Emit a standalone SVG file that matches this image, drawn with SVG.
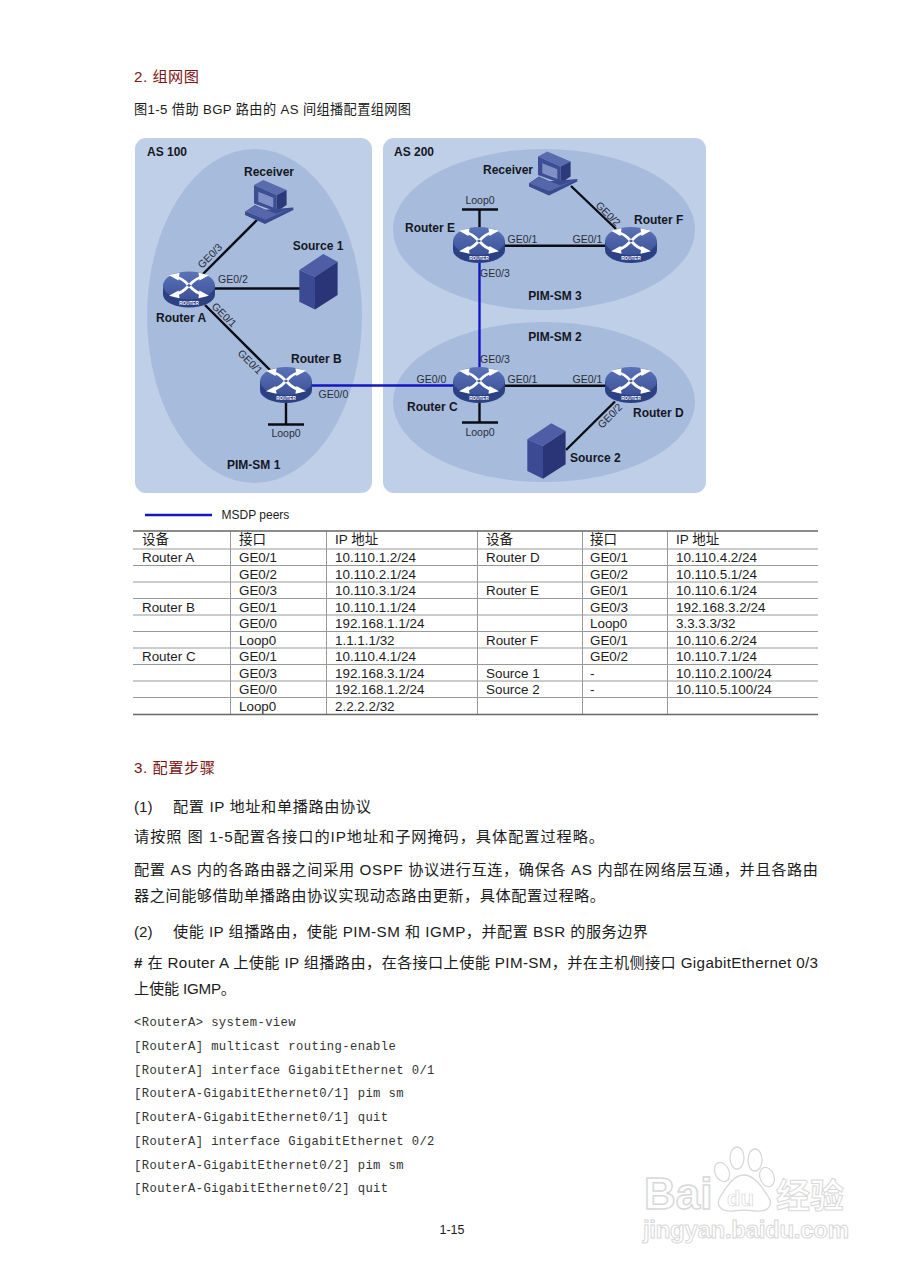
<svg xmlns="http://www.w3.org/2000/svg" xmlns:xlink="http://www.w3.org/1999/xlink" width="905" height="1280" viewBox="0 0 905 1280">
<style>
text{font-family:"Liberation Sans","Noto Sans CJK SC",sans-serif;fill:#1c1c1c}
.l{font-size:10.5px;fill:#2a2d3a}
.n{font-size:12px;font-weight:bold;fill:#15171f}
.m{text-anchor:middle}
.t{font-size:13.4px}
.h{font-size:13.500px}
.b{font-size:15.200px}
.red{font-size:15.200px;fill:#7b1414}
.c{font-family:"Liberation Mono","Noto Sans CJK SC",monospace;font-size:12.200px;letter-spacing:.4px;fill:#333}
.link{stroke:#0c0c14;stroke-width:2.4;fill:none}
.msdp{stroke:#1416c4;stroke-width:2.4;fill:none}
.grid{stroke:#999;stroke-width:1;fill:none}
.edge{stroke:#666;stroke-width:1.6;fill:none}
.wm{fill:#fff;stroke:#d8d8d8;stroke-width:1.3;font-weight:bold}
</style>
<defs>
<linearGradient id="rt" x1="0" y1="0" x2="0" y2="1"><stop offset="0" stop-color="#5a73b8"/><stop offset="1" stop-color="#3c5299"/></linearGradient>
<g id="arr"><path d="M-1,-1 C-5,-6 -9,-9 -14,-10" stroke="#fff" stroke-width="3.200" fill="none"/><polygon points="-21,-12 -10,-15 -11,-6" fill="#fff"/></g>
<g id="router">
<path d="M-26,-4 V5 A26,13 0 0 0 26,5 V-4 Z" fill="#2c4184"/>
<ellipse cx="0" cy="-4" rx="26" ry="14" fill="url(#rt)"/>
<g transform="translate(0,-4) scale(.95,.85)"><use xlink:href="#arr"/><use xlink:href="#arr" transform="scale(-1,1)"/><use xlink:href="#arr" transform="scale(1,-1)"/><use xlink:href="#arr" transform="scale(-1,-1)"/></g>
<text x="0" y="15" text-anchor="middle" style="font-size:4.6px;font-weight:bold;fill:#fff">ROUTER</text>
</g>
<g id="pc">
<polygon points="-14.3,-16.7 -5,-21.7 18.3,-11.7 8.3,-6.7" fill="#5a6cae"/>
<polygon points="-14.3,-16.7 8.3,-6.7 8.3,10 -14.3,1.7" fill="#3d4e93"/>
<polygon points="8.3,-6.7 18.3,-11.7 18.3,3.3 8.3,10" fill="#2c3a7c"/>
<polygon points="-10,-10 5,-4 5,5.7 -10,0" fill="#7f90c8"/>
<polygon points="-23.3,10 -13.3,3.3 -3,8 25,5.7 25,8.3 -3.3,22.3 -23.3,13.3" fill="#3a4b90"/>
<polygon points="-23.3,10 -13.3,4 8,12 25,5.7 -3,18" fill="#5567aa"/>
</g>
<g id="server">
<polygon points="-19,-11.7 5,-27.7 19.3,-20 -3.3,-5" fill="#4e5da6"/>
<polygon points="-19,-11.7 -3.3,-5 -3.3,27.7 -19,20" fill="#3b4a93"/>
<polygon points="-3.3,-5 19.3,-20 19.3,13.3 -3.3,27.7" fill="#2a3578"/>
</g>
</defs>
<rect width="905" height="1280" fill="#fff"/>

<text class="red" x="134" y="82" textLength="65">2. 组网图</text>
<text x="134" y="114" textLength="277" style="font-size:13.2px">图1-5  借助 BGP 路由的 AS 间组播配置组网图</text>

<g id="regions">
<rect id="as100" x="135" y="138" width="237" height="355" rx="11" fill="#c0cfe8"/>
<rect id="as200" x="383" y="138" width="323" height="355" rx="11" fill="#c0cfe8"/>
<ellipse id="pim1" cx="254.500" cy="316" rx="107.500" ry="167" fill="#a7bbdc"/>
<ellipse id="pim3" cx="544" cy="229.500" rx="151" ry="80.500" fill="#a7bbdc"/>
<ellipse id="pim2" cx="544" cy="402" rx="151" ry="80" fill="#a7bbdc"/>
<text class="n" x="147" y="156">AS 100</text>
<text class="n" x="394" y="156">AS 200</text>
<text class="n" x="227" y="469">PIM-SM 1</text>
<text class="n m" x="555" y="300">PIM-SM 3</text>
<text class="n m" x="555" y="341">PIM-SM 2</text>
</g>

<g id="connectors">
<path class="link" d="M203,274 L257,220"/>
<path class="link" d="M214,288.500 H300"/>
<path class="link" d="M205,305 L271,371"/>
<path class="link" d="M286,402 V424.500 M268,424.500 H304"/>
<path class="link" d="M479.500,227 V209.500 M462,209.500 H498"/>
<path class="link" d="M479.500,402 V422.500 M462,422.500 H498"/>
<path class="link" d="M504,245.700 H606"/>
<path class="link" d="M504,385.700 H606"/>
<path class="link" d="M571,186 L616,229"/>
<path class="link" d="M615,401.500 L566,450"/>
<path class="msdp" d="M311,385.500 H454"/>
<path class="msdp" d="M479.500,262 V368"/>
<path class="msdp" d="M145,515 H212"/>
</g>

<g id="labels">
<text class="l m" transform="translate(210,256) rotate(-45)" dy="3.500">GE0/3</text>
<text class="l" x="218" y="283">GE0/2</text>
<text class="l m" transform="translate(224,315) rotate(45)" dy="3.500">GE0/1</text>
<text class="l m" transform="translate(250,362) rotate(45)" dy="3.500">GE0/1</text>
<text class="l" x="318.500" y="398">GE0/0</text>
<text class="l m" x="286" y="437">Loop0</text>
<text class="l m" x="480" y="204">Loop0</text>
<text class="l" x="507.500" y="243">GE0/1</text>
<text class="l" x="572.500" y="243">GE0/1</text>
<text class="l" x="480" y="277">GE0/3</text>
<text class="l m" transform="translate(608,214) rotate(45)" dy="3.500">GE0/2</text>
<text class="l" x="480" y="363">GE0/3</text>
<text class="l" x="416.500" y="383">GE0/0</text>
<text class="l" x="507.500" y="383">GE0/1</text>
<text class="l" x="572.500" y="383">GE0/1</text>
<text class="l m" x="480" y="436">Loop0</text>
<text class="l m" transform="translate(610,416) rotate(-45)" dy="3.500">GE0/2</text>
<text x="221.500" y="519" style="font-size:12px">MSDP peers</text>
</g>

<g id="routerA"><use xlink:href="#router" x="189" y="289.500"/><text class="n" x="156" y="322">Router A</text></g>
<g id="routerB"><use xlink:href="#router" x="286" y="385"/><text class="n" x="291" y="363">Router B</text></g>
<g id="routerC"><use xlink:href="#router" x="479" y="385"/><text class="n" x="407" y="411">Router C</text></g>
<g id="routerD"><use xlink:href="#router" x="631" y="385"/><text class="n" x="633" y="417">Router D</text></g>
<g id="routerE"><use xlink:href="#router" x="479" y="245"/><text class="n" x="405" y="232">Router E</text></g>
<g id="routerF"><use xlink:href="#router" x="631" y="245"/><text class="n" x="634" y="224">Router F</text></g>
<g id="receiver1"><use xlink:href="#pc" x="268.300" y="201.700"/><text class="n m" x="269" y="176">Receiver</text></g>
<g id="receiver2"><use xlink:href="#pc" x="552.300" y="173.300"/><text class="n" x="483" y="174">Receiver</text></g>
<g id="source1"><use xlink:href="#server" x="318.300" y="281.700"/><text class="n m" x="318" y="250">Source 1</text></g>
<g id="source2"><use xlink:href="#server" x="546.300" y="451"/><text class="n" x="570" y="462">Source 2</text></g>

<g id="table">
<path class="grid" d="M133,549H818M133,565.500H818M133,582H818M133,598.500H818M133,615H818M133,631.500H818M133,648H818M133,664.500H818M133,681H818M133,697.500H818"/>
<path class="grid" d="M230.500,531V714M326.500,531V714M477.500,531V714M582.500,531V714M667.500,531V714"/>
<path class="edge" d="M133,531H818M133,714.500H818"/>
<text class="h" x="142" y="544">设备</text><text class="h" x="239" y="544">接口</text><text class="h" x="335" y="544">IP 地址</text>
<text class="h" x="486" y="544">设备</text><text class="h" x="590" y="544">接口</text><text class="h" x="676" y="544">IP 地址</text>
<text class="t" x="142" y="562">Router A</text><text class="t" x="239" y="562">GE0/1</text><text class="t" x="335" y="562">10.110.1.2/24</text><text class="t" x="486" y="562">Router D</text><text class="t" x="590" y="562">GE0/1</text><text class="t" x="676" y="562">10.110.4.2/24</text>
<text class="t" x="239" y="578.500">GE0/2</text><text class="t" x="335" y="578.500">10.110.2.1/24</text><text class="t" x="590" y="578.500">GE0/2</text><text class="t" x="676" y="578.500">10.110.5.1/24</text>
<text class="t" x="239" y="595">GE0/3</text><text class="t" x="335" y="595">10.110.3.1/24</text><text class="t" x="486" y="595">Router E</text><text class="t" x="590" y="595">GE0/1</text><text class="t" x="676" y="595">10.110.6.1/24</text>
<text class="t" x="142" y="611.500">Router B</text><text class="t" x="239" y="611.500">GE0/1</text><text class="t" x="335" y="611.500">10.110.1.1/24</text><text class="t" x="590" y="611.500">GE0/3</text><text class="t" x="676" y="611.500">192.168.3.2/24</text>
<text class="t" x="239" y="628">GE0/0</text><text class="t" x="335" y="628">192.168.1.1/24</text><text class="t" x="590" y="628">Loop0</text><text class="t" x="676" y="628">3.3.3.3/32</text>
<text class="t" x="239" y="644.500">Loop0</text><text class="t" x="335" y="644.500">1.1.1.1/32</text><text class="t" x="486" y="644.500">Router F</text><text class="t" x="590" y="644.500">GE0/1</text><text class="t" x="676" y="644.500">10.110.6.2/24</text>
<text class="t" x="142" y="661">Router C</text><text class="t" x="239" y="661">GE0/1</text><text class="t" x="335" y="661">10.110.4.1/24</text><text class="t" x="590" y="661">GE0/2</text><text class="t" x="676" y="661">10.110.7.1/24</text>
<text class="t" x="239" y="677.500">GE0/3</text><text class="t" x="335" y="677.500">192.168.3.1/24</text><text class="t" x="486" y="677.500">Source 1</text><text class="t" x="590" y="677.500">-</text><text class="t" x="676" y="677.500">10.110.2.100/24</text>
<text class="t" x="239" y="694">GE0/0</text><text class="t" x="335" y="694">192.168.1.2/24</text><text class="t" x="486" y="694">Source 2</text><text class="t" x="590" y="694">-</text><text class="t" x="676" y="694">10.110.5.100/24</text>
<text class="t" x="239" y="710.500">Loop0</text><text class="t" x="335" y="710.500">2.2.2.2/32</text>
</g>

<g id="body">
<text class="red" x="134" y="773" textLength="81">3. 配置步骤</text>
<text class="b" x="134" y="812">(1)</text><text class="b" x="173" y="812" textLength="198">配置 IP 地址和单播路由协议</text>
<text class="b" x="134" y="842" textLength="470">请按照 图 1-5配置各接口的IP地址和子网掩码，具体配置过程略。</text>
<text class="b" x="134" y="875" textLength="684">配置 AS 内的各路由器之间采用 OSPF 协议进行互连，确保各 AS 内部在网络层互通，并且各路由</text>
<text class="b" x="134" y="901" textLength="471">器之间能够借助单播路由协议实现动态路由更新，具体配置过程略。</text>
<text class="b" x="134" y="937">(2)</text><text class="b" x="173" y="937" textLength="475">使能 IP 组播路由，使能 PIM-SM 和 IGMP，并配置 BSR 的服务边界</text>
<text class="b" x="134" y="968" textLength="684"><tspan font-weight="bold">#</tspan> 在 Router A 上使能 IP 组播路由，在各接口上使能 PIM-SM，并在主机侧接口 GigabitEthernet 0/3</text>
<text class="b" x="134" y="994" textLength="102">上使能 IGMP。</text>
<text class="c" x="134" y="1026">&lt;RouterA&gt; system-view</text>
<text class="c" x="134" y="1050">[RouterA] multicast routing-enable</text>
<text class="c" x="134" y="1074">[RouterA] interface GigabitEthernet 0/1</text>
<text class="c" x="134" y="1097">[RouterA-GigabitEthernet0/1] pim sm</text>
<text class="c" x="134" y="1121">[RouterA-GigabitEthernet0/1] quit</text>
<text class="c" x="134" y="1145">[RouterA] interface GigabitEthernet 0/2</text>
<text class="c" x="134" y="1169">[RouterA-GigabitEthernet0/2] pim sm</text>
<text class="c" x="134" y="1192">[RouterA-GigabitEthernet0/2] quit</text>
<text x="452" y="1234" text-anchor="middle" style="font-size:12.500px">1-15</text>
</g>

<g id="watermark">
<ellipse cx="722" cy="1172" rx="7" ry="10" class="wm" transform="rotate(-25 722 1172)"/>
<ellipse cx="737" cy="1158" rx="7" ry="11" class="wm"/>
<ellipse cx="755" cy="1160" rx="7" ry="11" class="wm"/>
<ellipse cx="767" cy="1177" rx="7" ry="10" class="wm" transform="rotate(-20 767 1177)"/>
<path class="wm" d="M744,1175 C755,1175 764,1190 769,1198 C774,1208 765,1212 755,1211 C748,1210 740,1210 733,1211 C722,1212 715,1206 720,1197 C726,1188 733,1175 744,1175Z"/>
<text class="wm" x="644" y="1209" style="font-size:44px;stroke-width:1.500">Bai</text>
<text class="wm" x="727" y="1206" style="font-size:22px;stroke-width:.7">du</text>
<text class="wm" x="776" y="1208" style="font-size:34px;stroke-width:1">经验</text>
<text class="wm" x="643" y="1238" textLength="206" style="font-size:24px;stroke-width:1">jingyan.baidu.com</text>
</g>
</svg>
